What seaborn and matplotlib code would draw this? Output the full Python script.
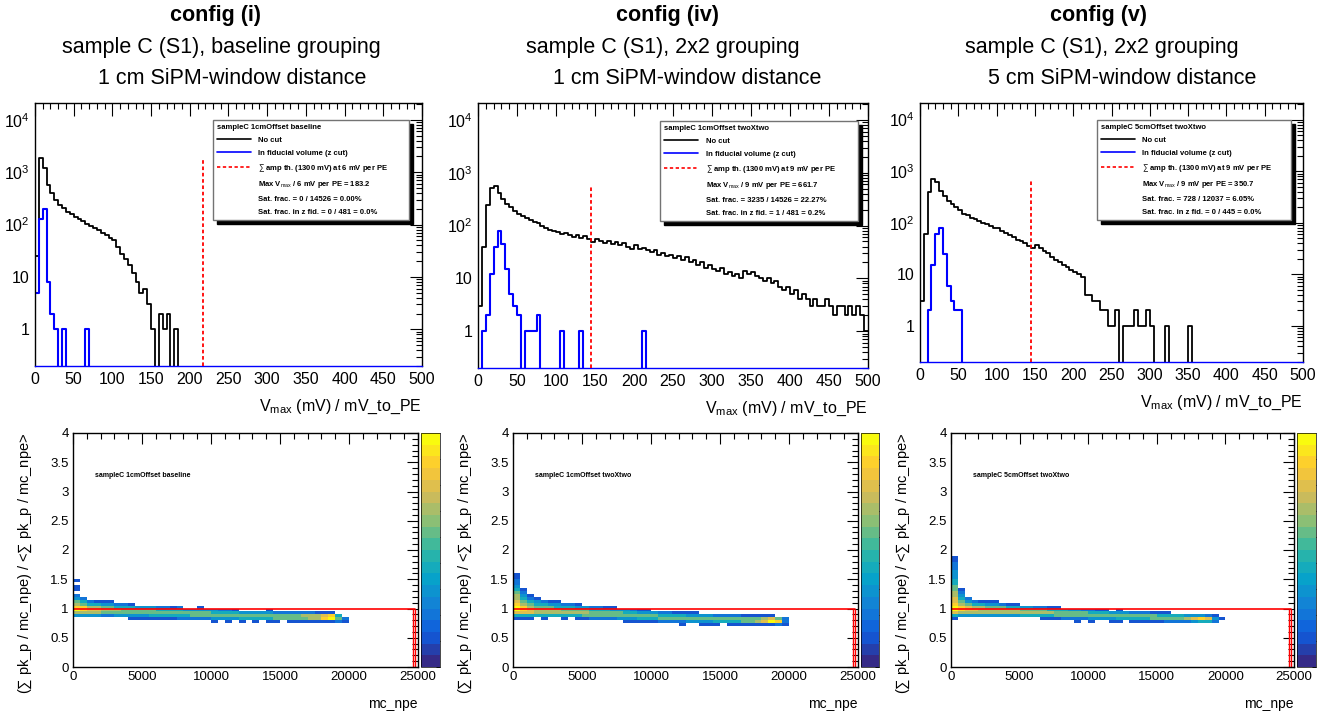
import numpy as np
import pandas as pd
import matplotlib
matplotlib.use("Agg")
import matplotlib.pyplot as plt
import seaborn as sns
from matplotlib.colors import LinearSegmentedColormap
from matplotlib.lines import Line2D
from matplotlib.ticker import (MultipleLocator, FixedLocator, FixedFormatter,
                               LogLocator, NullFormatter)

# ------------------------------------------------------------------ data
CONFIG_NAMES = ["config (i)", "config (iv)", "config (v)"]
SAMPLE_LINES = ["sample C (S1), baseline grouping", "sample C (S1), 2x2 grouping",
                "sample C (S1), 2x2 grouping"]
DIST_LINES = ["1 cm SiPM-window distance", "1 cm SiPM-window distance",
              "5 cm SiPM-window distance"]
TAGS = ["sampleC 1cmOffset baseline", "sampleC 1cmOffset twoXtwo",
        "sampleC 5cmOffset twoXtwo"]

AMP_TH_MV = 1300
MV_PER_PE = [6, 9, 9]
MAX_VMAX_PE = [183.2, 661.7, 350.7]
SAT_N = [0, 3235, 728]
N_EVT = [14526, 14526, 12037]
SAT_PCT = ["0.00%", "22.27%", "6.05%"]
SAT_FID_N = [0, 1, 0]
N_FID = [481, 481, 445]
SAT_FID_PCT = ["0.0%", "0.2%", "0.0%"]

# Vmax / mV_to_PE histograms, 5-unit bins from 0 to 500
VMAX_BIN = 5
VMAX_RANGE = (0, 500)
NOCUT_1 = [25, 1900, 1200, 560, 400, 300, 240, 210, 175, 160,
           140, 128, 115, 105, 95, 86, 78, 70, 64, 55,
           50, 38, 28, 22, 17, 12, 8, 5, 6, 3,
           1, 0, 2, 1, 2, 0, 1, 0, 0, 0] + [0] * 60
FID_1 = [5, 130, 200, 8, 2, 1, 0, 1, 0, 0,
         0, 0, 0, 1, 0, 0, 0, 0, 0, 0] + [0] * 80
NOCUT_2 = [3, 40, 250, 520, 560, 420, 320, 260, 220, 185,
           165, 150, 140, 125, 118, 110, 100, 88, 82, 78,
           76, 70, 72, 65, 62, 66, 58, 64, 55, 48,
           56, 50, 46, 52, 44, 48, 42, 46, 40, 36,
           42, 36, 38, 34, 32, 35, 28, 30, 26, 28,
           24, 26, 22, 25, 20, 22, 18, 20, 16, 18,
           15, 14, 16, 12, 13, 11, 12, 10, 14, 12,
           13, 11, 10, 9, 10, 8, 9, 7, 6, 7,
           5, 6, 4, 5, 4, 3, 4, 3, 3, 4,
           3, 2, 3, 3, 2, 3, 2, 3, 2, 1]
FID_2 = [0, 1, 2, 12, 40, 80, 45, 15, 5, 3,
         2, 0, 1, 1, 1, 2, 0, 0, 0, 0,
         0, 1, 0, 0, 0, 0, 1, 0, 0, 0,
         0, 0, 0, 0, 0, 0, 0, 0, 0, 0,
         0, 0, 1, 0, 0, 0, 0, 0, 0, 0] + [0] * 50
NOCUT_3 = [3, 60, 400, 700, 620, 420, 330, 270, 230, 200,
           180, 150, 140, 125, 118, 110, 100, 95, 88, 80,
           78, 70, 64, 58, 52, 47, 44, 40, 36, 32,
           37, 33, 28, 26, 22, 19, 17, 15, 14, 12,
           11, 10, 9, 4, 4, 3, 3, 2, 2, 1,
           1, 2, 0, 1, 1, 1, 2, 1, 1, 2,
           1, 0, 0, 0, 1, 0, 0, 0, 0, 0,
           1, 0, 0, 0, 0, 0, 0, 0, 0, 0] + [0] * 20
FID_3 = [0, 0, 2, 15, 60, 80, 25, 6, 3, 2,
         2, 0, 0, 0, 0, 0, 0, 0, 0, 0] + [0] * 80
NOCUT = [NOCUT_1, NOCUT_2, NOCUT_3]
FID = [FID_1, FID_2, FID_3]

# 2D maps: colour level (0-9) per cell; columns = mc_npe bins of 500 from 0,
# rows listed from the highest ratio bin down to the lowest (ratio bins of 0.05)
NPE_BIN = 500
RATIO_BIN = 0.05
N_COLS = 40
MAP_1 = ["1", "", "1", "1", "", "2", "32", "542111", "654433221",
         "8866554443332212001",
         "98776665555544443333322100001",
         "6666" "5555555555555555" "4444" "33333" "222222" "111" "00",
         "333322" "33333" "444444" "5555555555555555" "666" "7840",
         "00000000" "1111111" "22222" "3333" "44444" "55555" "66" "8" "9" "5" "2",
         "00000000000000000000" "1010101011" "0" "1111111" "2" "1"]
MAP_2 = ["1", "1", "2", "2", "3", "41", "52", "631", "6421", "7543211",
         "8654433221", "986555444332211", "98766665555444333211",
         "777" "6" "6666666" "55555" "44" "333" "22" "1111",
         "444" "4444444" "55555555555" "4444" "3333" "2222" "11111" "00",
         "11101001011" "2222" "333" "444" "555555555555555" "6" "7" "5" "2",
         "0000000000000000" "11111" "2222" "3333" "4444" "55" "6" "7" "9" "8" "2",
         "000000000000000000000000" "1" "00" "111" "0" "1111111" "2" "1"]
MAP_3 = ["1", "1", "2", "2", "2", "3", "3", "3", "4", "4", "5", "51", "62", "63",
         "742", "7532111", "8654433211", "9876655544332211",
         "98776" "66666" "5555" "444" "33" "22" "11" "0" "1",
         "7666" "66666666666" "55555" "444" "333" "222" "111",
         "4" "333333333" "44444" "555555555555555" "4444" "333" "2" "1" "0",
         "1" "000000000000" "111" "2222" "3333" "44444" "55555" "6" "7" "8" "7" "3" "1",
         "000000000000000000" "1" "0" "1" "00" "11" "0" "11111" "2222" "3" "44" "2" "0"]
MAPS = [MAP_1, MAP_2, MAP_3]
MAP_RATIO_LOW = [0.75, 0.70, 0.75]
LEVEL_MAX = 9

REF_RATIO = 1.0
REF_X_EDGES = [24650, 24800]

# ROOT "bird" palette
BIRD = [(0.2082, 0.1664, 0.5293), (0.0592, 0.3599, 0.8684), (0.0780, 0.5041, 0.8385),
        (0.0232, 0.6419, 0.7914), (0.1802, 0.7178, 0.6425), (0.5301, 0.7492, 0.4662),
        (0.8186, 0.7328, 0.3499), (0.9956, 0.7862, 0.1968), (0.9764, 0.9832, 0.0539)]

# ------------------------------------------------------------------ style
sns.set_theme(style="white", rc={"axes.edgecolor": "black", "axes.linewidth": 1.0,
                                 "xtick.color": "black", "ytick.color": "black",
                                 "text.color": "black", "axes.labelcolor": "black"})
plt.rcParams["font.family"] = ["Liberation Sans", "DejaVu Sans"]
plt.rcParams["mathtext.fontset"] = "custom"
plt.rcParams["mathtext.rm"] = "Liberation Sans"
plt.rcParams["mathtext.it"] = "Liberation Sans:italic"
plt.rcParams["mathtext.bf"] = "Liberation Sans:bold"

W, H = 1343, 713
fig = plt.figure(figsize=(W / 100, H / 100), dpi=100)
fig.patch.set_facecolor("white")


def px_axes(l, t, r, b):
    return fig.add_axes([l / W, 1 - b / H, (r - l) / W, (b - t) / H])


TOP_BOXES = [(35, 103, 422, 366), (478, 103, 868, 368), (920, 103, 1303, 362)]
BOT_BOXES = [(73, 433, 418, 667), (513, 433, 858, 667), (951, 433, 1294, 667)]
CBAR_BOXES = [(421, 433, 440, 667), (861, 433, 879, 667), (1297, 433, 1316, 667)]
TITLE_X = [(215, 221, 232), (667, 663, 687), (1099, 1102, 1122)]
TITLE_Y = (16, 47, 78)
LEG_BOX = [(0.46, 0.55, 0.506, 0.385), (0.467, 0.55, 0.507, 0.382),
           (0.462, 0.55, 0.507, 0.384)]

bird_cmap = LinearSegmentedColormap.from_list("bird", BIRD, N=20)
centers = np.arange(VMAX_RANGE[0], VMAX_RANGE[1], VMAX_BIN) + VMAX_BIN / 2

for i in range(3):
    # ---------------- titles
    fig.text(TITLE_X[i][0] / W, 1 - TITLE_Y[0] / H, CONFIG_NAMES[i], ha="center",
             va="center", fontsize=15.5, fontweight="bold")
    fig.text(TITLE_X[i][1] / W, 1 - TITLE_Y[1] / H, SAMPLE_LINES[i], ha="center",
             va="center", fontsize=15.5)
    fig.text(TITLE_X[i][2] / W, 1 - TITLE_Y[2] / H, DIST_LINES[i], ha="center",
             va="center", fontsize=15.5)

    # ---------------- top: Vmax histograms
    ax = px_axes(*TOP_BOXES[i])
    dfh = pd.DataFrame({"vmax": centers, "nocut": NOCUT[i], "fid": FID[i]})
    sns.histplot(data=dfh, x="vmax", weights="nocut", binwidth=VMAX_BIN,
                 binrange=VMAX_RANGE, element="step",
                 fill=False, color="black", linewidth=1.3, ax=ax)
    sns.histplot(data=dfh, x="vmax", weights="fid", binwidth=VMAX_BIN,
                 binrange=VMAX_RANGE, element="step",
                 fill=False, color="blue", linewidth=1.5, ax=ax)
    ax.set_yscale("log")
    ax.set_xlim(0, 500)
    ax.set_ylim(0.2, 2.1e4)
    thr = AMP_TH_MV / MV_PER_PE[i]
    ax.vlines(thr, 0.2, max(NOCUT[i]), colors="red", linestyles=(0, (2, 1.5)),
              linewidth=1.3, zorder=5)
    ax.yaxis.set_major_locator(FixedLocator([1, 10, 100, 1000, 10000]))
    ax.yaxis.set_major_formatter(FixedFormatter(["1", "10", "$10^{2}$", "$10^{3}$",
                                                 "$10^{4}$"]))
    ax.yaxis.set_minor_locator(LogLocator(base=10, subs=np.arange(2, 10)))
    ax.yaxis.set_minor_formatter(NullFormatter())
    ax.xaxis.set_major_locator(MultipleLocator(50))
    ax.xaxis.set_minor_locator(MultipleLocator(10))
    ax.tick_params(which="both", direction="in", top=True, right=True, labelsize=11.5,
                   width=0.8)
    ax.tick_params(which="major", length=9, pad=4)
    ax.tick_params(which="minor", length=4.5)
    ax.set_ylabel("")
    ax.set_xlabel(r"V$_{\rm max}$ (mV) / mV_to_PE", loc="right", fontsize=11.5,
                  labelpad=8)
    ax.spines["bottom"].set_color("blue")

    k = MV_PER_PE[i]
    labels = ["No cut", "In fiducial volume (z cut)",
              r"$\sum$ amp th. (%d mV) at %d mV per PE" % (AMP_TH_MV, k),
              r"Max V$_{\rm max}$ / %d mV per PE = %.1f" % (k, MAX_VMAX_PE[i]),
              "Sat. frac. = %d / %d = %s" % (SAT_N[i], N_EVT[i], SAT_PCT[i]),
              "Sat. frac. in z fid. = %d / %d = %s" % (SAT_FID_N[i], N_FID[i],
                                                       SAT_FID_PCT[i])]
    handles = [Line2D([], [], color="black", lw=1.2),
               Line2D([], [], color="blue", lw=1.2),
               Line2D([], [], color="red", lw=1.2, ls=(0, (2, 1.5))),
               Line2D([], [], color="none"), Line2D([], [], color="none"),
               Line2D([], [], color="none")]
    ax.legend(handles, labels, loc="upper left", bbox_to_anchor=LEG_BOX[i],
              mode="expand", title=TAGS[i], alignment="left",
              title_fontproperties={"weight": "bold", "size": 5.5},
              prop={"weight": "bold", "size": 5.5}, frameon=True, fancybox=False,
              edgecolor="0.45", framealpha=1,
              shadow={"ox": 3, "oy": -3, "facecolor": "black", "edgecolor": "black",
                      "alpha": 1},
              handlelength=4.4, handletextpad=1.0, labelspacing=0.7,
              borderpad=0.55, borderaxespad=0)

    # ---------------- bottom: 2D maps
    bx = px_axes(*BOT_BOXES[i])
    cax = px_axes(*CBAR_BOXES[i])
    recs = []
    rows = MAPS[i][::-1]
    for r, row in enumerate(rows):
        row = row.ljust(N_COLS, "0")[:N_COLS]
        yc = MAP_RATIO_LOW[i] + (r + 0.5) * RATIO_BIN
        for c, ch in enumerate(row):
            if int(ch) > 0:
                recs.append((c * NPE_BIN + NPE_BIN / 2, yc, int(ch)))
    dfm = pd.DataFrame(recs, columns=["mc_npe", "ratio", "level"])
    sns.histplot(data=dfm, x="mc_npe", y="ratio", weights="level",
                 binwidth=(NPE_BIN, RATIO_BIN), binrange=((0, 25000), (0, 4)),
                 cmap=bird_cmap, vmin=0, vmax=LEVEL_MAX, cbar=True, cbar_ax=cax,
                 ax=bx)
    bx.plot([0, REF_X_EDGES[1]], [REF_RATIO, REF_RATIO], color="red", lw=1.2)
    bx.vlines(REF_X_EDGES, 0, REF_RATIO, colors="red", lw=1.0)
    bx.set_xlim(0, 25000)
    bx.set_ylim(0, 4)
    bx.xaxis.set_major_locator(MultipleLocator(5000))
    bx.xaxis.set_minor_locator(MultipleLocator(1000))
    bx.yaxis.set_major_locator(MultipleLocator(0.5))
    bx.yaxis.set_minor_locator(MultipleLocator(0.1))
    bx.yaxis.set_major_formatter(matplotlib.ticker.FuncFormatter(
        lambda v, p: ("%g" % v)))
    bx.tick_params(which="both", direction="in", top=True, right=True, labelsize=9.5,
                   width=0.8)
    bx.tick_params(which="major", length=8, pad=3)
    bx.tick_params(which="minor", length=4)
    bx.set_xlabel("mc_npe", loc="right", fontsize=10, labelpad=10)
    bx.set_ylabel(r"$(\sum$ pk_p / mc_npe) / <$\sum$ pk_p / mc_npe>", loc="top",
                  fontsize=10.5, labelpad=12)
    bx.text(0.064, 0.81, TAGS[i], transform=bx.transAxes, fontsize=5,
            fontweight="bold")
    cax.yaxis.set_major_locator(MultipleLocator(1))
    cax.tick_params(axis="y", direction="in", length=3, width=0.6, right=True,
                    left=False, labelright=False, labelleft=False)
    for sp in cax.spines.values():
        sp.set_linewidth(0.5)

fig.savefig("out.png", dpi=100, facecolor="white")
